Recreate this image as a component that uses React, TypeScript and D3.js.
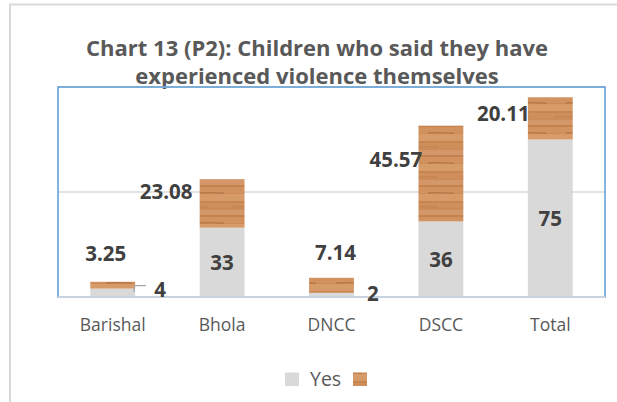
import React from "react";
import * as d3 from "d3";

const categories = ["Barishal", "Bhola", "DNCC", "DSCC", "Total"];
const yesValues = [4, 33, 2, 36, 75];
const otherValues = [3.25, 23.08, 7.14, 45.57, 20.11];
const seriesNames = ["Yes", ""];
const yTicks = [0, 50, 100];
const titleLines = [
  "Chart 13 (P2): Children who said they have",
  "experienced violence themselves",
];

// label layout (pixel offsets, not data)
const otherLabelOffsets: [number, number][] = [
  [-7, -21],
  [-56, 20],
  [4, -18],
  [-45, 41],
  [-47, 24],
];
// yes labels: inside, except small ones placed to the right
const yesLabelOutside = [true, false, true, false, false];

const W = 617;
const H = 402;
const plot = { left: 58, right: 605, top: 87, bottom: 297 };

export default function App() {
  const x = d3
    .scaleBand<string>()
    .domain(categories)
    .range([plot.left, plot.right])
    .paddingInner(0.59)
    .paddingOuter(0.295);
  const y = d3.scaleLinear().domain([0, 100]).range([plot.bottom, plot.top]);

  const rows = categories.map((c, i) => ({ cat: c, yes: yesValues[i], other: otherValues[i] }));
  const stack = d3.stack<any>().keys(["yes", "other"]);
  const series = stack(rows);
  const bw = x.bandwidth();

  const textColor = "#595959";
  const labelColor = "#404040";
  const font = "'Open Sans', sans-serif";

  return (
    <svg
      width={W}
      height={H}
      style={{ position: "absolute", left: 0, top: 0, background: "#fff" }}
      fontFamily={font}
    >
      <defs>
        <pattern id="wood" patternUnits="userSpaceOnUse" width={46} height={30}>
          <rect width={46} height={30} fill="#cc8b57" />
          <rect y={0} width={46} height={5} fill="#d4976a" />
          <rect y={5} width={46} height={2} fill="#c4824f" />
          <rect y={7} width={46} height={6} fill="#d1925f" />
          <path d="M14 13 Q26 12.2 40 13.3" stroke="#b0703f" strokeWidth={1.4} fill="none" opacity={0.8} />
          <rect y={14} width={46} height={7} fill="#d69b69" />
          <rect y={21} width={46} height={2} fill="#c7864f" />
          <rect y={23} width={46} height={5} fill="#cf8f5c" />
          <path d="M2 27 Q14 26.4 24 27.2" stroke="#b97a48" strokeWidth={1} fill="none" opacity={0.7} />
        </pattern>
      </defs>

      {/* outer chart border */}
      <rect x={10} y={4.5} width={700} height={500} fill="none" stroke="#d9d9d9" strokeWidth={2} />

      {/* title */}
      {titleLines.map((t, i) => (
        <text
          key={i}
          x={317}
          y={56 + i * 28}
          textAnchor="middle"
          fontSize={22}
          fontWeight="bold"
          fill={textColor}
        >
          {t}
        </text>
      ))}

      {/* gridlines */}
      {yTicks.map((t) => (
        <line
          key={t}
          x1={plot.left}
          x2={plot.right}
          y1={y(t)}
          y2={y(t)}
          stroke="#d9d9d9"
          strokeWidth={1.5}
        />
      ))}

      {/* plot area border */}
      <rect
        x={plot.left}
        y={plot.top}
        width={plot.right - plot.left}
        height={plot.bottom - plot.top}
        fill="none"
        stroke="#5b9bd5"
        strokeWidth={1.5}
      />

      {/* bars */}
      {series.map((s, si) => (
        <g key={si}>
          {s.map((d, i) => (
            <rect
              key={i}
              x={x(categories[i])!}
              y={y(d[1])}
              width={bw}
              height={y(d[0]) - y(d[1])}
              fill={si === 0 ? "#d9d9d9" : "url(#wood)"}
            />
          ))}
        </g>
      ))}

      {/* axis line */}
      <line
        x1={plot.left}
        x2={plot.right}
        y1={plot.bottom}
        y2={plot.bottom}
        stroke="#c9d3e0"
        strokeWidth={2}
      />

      {/* yes labels */}
      {series[0].map((d, i) => {
        const x0 = x(categories[i])!;
        if (yesLabelOutside[i]) {
          const ly = y(d[1]) - 3;
          return (
            <g key={i}>
              {i === 0 && (
                <path
                  d={`M${x0 + bw - 1},${y(d[0]) - 5} V${y(d[1]) - 3} H${x0 + bw + 11}`}
                  stroke="#a6a6a6"
                  strokeWidth={1.3}
                  fill="none"
                />
              )}
              <text
                x={x0 + bw + (i === 0 ? 19 : 13)}
                y={ly + 11}
                fontSize={20.5}
                fontWeight="bold"
                fill={labelColor}
              >
                {yesValues[i]}
              </text>
            </g>
          );
        }
        return (
          <text
            key={i}
            x={x0 + bw / 2}
            y={(y(d[0]) + y(d[1])) / 2 + 8}
            textAnchor="middle"
            fontSize={20.5}
            fontWeight="bold"
            fill={labelColor}
          >
            {yesValues[i]}
          </text>
        );
      })}

      {/* other labels */}
      {series[1].map((d, i) => {
        const cx = x(categories[i])! + bw / 2;
        const [dx, dy] = otherLabelOffsets[i];
        return (
          <text
            key={i}
            x={cx + dx}
            y={y(d[1]) + dy}
            textAnchor="middle"
            fontSize={20.5}
            fontWeight="bold"
            fill={labelColor}
          >
            {otherValues[i].toFixed(2)}
          </text>
        );
      })}

      {/* category labels */}
      {categories.map((c) => (
        <text
          key={c}
          x={x(c)! + bw / 2}
          y={331}
          textAnchor="middle"
          fontSize={17.5}
          fill={textColor}
        >
          {c}
        </text>
      ))}

      {/* legend */}
      <rect x={285} y={372.5} width={14} height={13.5} fill="#d9d9d9" />
      <text x={310} y={386} fontSize={19.5} fill={textColor}>
        {seriesNames[0]}
      </text>
      <rect x={353} y={372.5} width={14} height={13.5} fill="url(#wood)" />
      <text x={370} y={386} fontSize={19.5} fill={textColor}>
        {seriesNames[1]}
      </text>
    </svg>
  );
}
